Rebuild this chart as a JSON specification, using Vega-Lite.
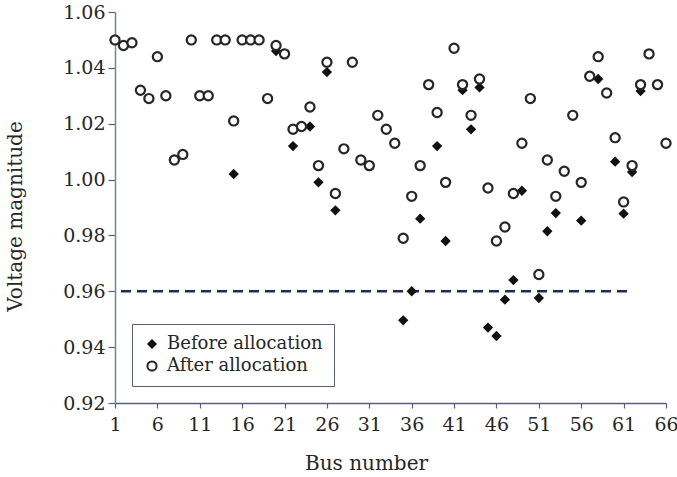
{
  "$schema": "https://vega.github.io/schema/vega-lite/v6.json",
  "autosize": "none",
  "width": 551,
  "height": 391,
  "padding": {"left": 115, "top": 12, "right": 11, "bottom": 74},
  "background": "white",
  "config": {
    "view": {"stroke": null},
    "font": "DejaVu Serif",
    "axis": {
      "grid": false,
      "labelFont": "DejaVu Serif",
      "titleFont": "DejaVu Serif",
      "labelColor": "#262626",
      "titleColor": "#262626",
      "titleFontWeight": "normal",
      "labelFontSize": 19,
      "titleFontSize": 20
    }
  },
  "datasets": {
    "voltages": [
      {"bus": 15, "voltage": 1.002, "series": "Before allocation"},
      {"bus": 20, "voltage": 1.046, "series": "Before allocation"},
      {"bus": 22, "voltage": 1.012, "series": "Before allocation"},
      {"bus": 24, "voltage": 1.019, "series": "Before allocation"},
      {"bus": 25, "voltage": 0.999, "series": "Before allocation"},
      {"bus": 26, "voltage": 1.0385, "series": "Before allocation"},
      {"bus": 27, "voltage": 0.989, "series": "Before allocation"},
      {"bus": 35, "voltage": 0.9496, "series": "Before allocation"},
      {"bus": 36, "voltage": 0.960, "series": "Before allocation"},
      {"bus": 37, "voltage": 0.986, "series": "Before allocation"},
      {"bus": 39, "voltage": 1.012, "series": "Before allocation"},
      {"bus": 40, "voltage": 0.978, "series": "Before allocation"},
      {"bus": 42, "voltage": 1.032, "series": "Before allocation"},
      {"bus": 43, "voltage": 1.018, "series": "Before allocation"},
      {"bus": 44, "voltage": 1.033, "series": "Before allocation"},
      {"bus": 45, "voltage": 0.947, "series": "Before allocation"},
      {"bus": 46, "voltage": 0.944, "series": "Before allocation"},
      {"bus": 47, "voltage": 0.957, "series": "Before allocation"},
      {"bus": 48, "voltage": 0.964, "series": "Before allocation"},
      {"bus": 49, "voltage": 0.996, "series": "Before allocation"},
      {"bus": 51, "voltage": 0.9576, "series": "Before allocation"},
      {"bus": 52, "voltage": 0.9815, "series": "Before allocation"},
      {"bus": 53, "voltage": 0.988, "series": "Before allocation"},
      {"bus": 56, "voltage": 0.9853, "series": "Before allocation"},
      {"bus": 58, "voltage": 1.036, "series": "Before allocation"},
      {"bus": 60, "voltage": 1.0064, "series": "Before allocation"},
      {"bus": 61, "voltage": 0.9878, "series": "Before allocation"},
      {"bus": 62, "voltage": 1.0027, "series": "Before allocation"},
      {"bus": 63, "voltage": 1.0317, "series": "Before allocation"},
      {"bus": 1, "voltage": 1.050, "series": "After allocation"},
      {"bus": 2, "voltage": 1.048, "series": "After allocation"},
      {"bus": 3, "voltage": 1.049, "series": "After allocation"},
      {"bus": 4, "voltage": 1.032, "series": "After allocation"},
      {"bus": 5, "voltage": 1.029, "series": "After allocation"},
      {"bus": 6, "voltage": 1.044, "series": "After allocation"},
      {"bus": 7, "voltage": 1.030, "series": "After allocation"},
      {"bus": 8, "voltage": 1.007, "series": "After allocation"},
      {"bus": 9, "voltage": 1.009, "series": "After allocation"},
      {"bus": 10, "voltage": 1.050, "series": "After allocation"},
      {"bus": 11, "voltage": 1.030, "series": "After allocation"},
      {"bus": 12, "voltage": 1.030, "series": "After allocation"},
      {"bus": 13, "voltage": 1.050, "series": "After allocation"},
      {"bus": 14, "voltage": 1.050, "series": "After allocation"},
      {"bus": 15, "voltage": 1.021, "series": "After allocation"},
      {"bus": 16, "voltage": 1.050, "series": "After allocation"},
      {"bus": 17, "voltage": 1.050, "series": "After allocation"},
      {"bus": 18, "voltage": 1.050, "series": "After allocation"},
      {"bus": 19, "voltage": 1.029, "series": "After allocation"},
      {"bus": 20, "voltage": 1.048, "series": "After allocation"},
      {"bus": 21, "voltage": 1.045, "series": "After allocation"},
      {"bus": 22, "voltage": 1.018, "series": "After allocation"},
      {"bus": 23, "voltage": 1.019, "series": "After allocation"},
      {"bus": 24, "voltage": 1.026, "series": "After allocation"},
      {"bus": 25, "voltage": 1.005, "series": "After allocation"},
      {"bus": 26, "voltage": 1.042, "series": "After allocation"},
      {"bus": 27, "voltage": 0.995, "series": "After allocation"},
      {"bus": 28, "voltage": 1.011, "series": "After allocation"},
      {"bus": 29, "voltage": 1.042, "series": "After allocation"},
      {"bus": 30, "voltage": 1.007, "series": "After allocation"},
      {"bus": 31, "voltage": 1.005, "series": "After allocation"},
      {"bus": 32, "voltage": 1.023, "series": "After allocation"},
      {"bus": 33, "voltage": 1.018, "series": "After allocation"},
      {"bus": 34, "voltage": 1.013, "series": "After allocation"},
      {"bus": 35, "voltage": 0.979, "series": "After allocation"},
      {"bus": 36, "voltage": 0.994, "series": "After allocation"},
      {"bus": 37, "voltage": 1.005, "series": "After allocation"},
      {"bus": 38, "voltage": 1.034, "series": "After allocation"},
      {"bus": 39, "voltage": 1.024, "series": "After allocation"},
      {"bus": 40, "voltage": 0.999, "series": "After allocation"},
      {"bus": 41, "voltage": 1.047, "series": "After allocation"},
      {"bus": 42, "voltage": 1.034, "series": "After allocation"},
      {"bus": 43, "voltage": 1.023, "series": "After allocation"},
      {"bus": 44, "voltage": 1.036, "series": "After allocation"},
      {"bus": 45, "voltage": 0.997, "series": "After allocation"},
      {"bus": 46, "voltage": 0.978, "series": "After allocation"},
      {"bus": 47, "voltage": 0.983, "series": "After allocation"},
      {"bus": 48, "voltage": 0.995, "series": "After allocation"},
      {"bus": 49, "voltage": 1.013, "series": "After allocation"},
      {"bus": 50, "voltage": 1.029, "series": "After allocation"},
      {"bus": 51, "voltage": 0.966, "series": "After allocation"},
      {"bus": 52, "voltage": 1.007, "series": "After allocation"},
      {"bus": 53, "voltage": 0.994, "series": "After allocation"},
      {"bus": 54, "voltage": 1.003, "series": "After allocation"},
      {"bus": 55, "voltage": 1.023, "series": "After allocation"},
      {"bus": 56, "voltage": 0.999, "series": "After allocation"},
      {"bus": 57, "voltage": 1.037, "series": "After allocation"},
      {"bus": 58, "voltage": 1.044, "series": "After allocation"},
      {"bus": 59, "voltage": 1.031, "series": "After allocation"},
      {"bus": 60, "voltage": 1.015, "series": "After allocation"},
      {"bus": 61, "voltage": 0.992, "series": "After allocation"},
      {"bus": 62, "voltage": 1.005, "series": "After allocation"},
      {"bus": 63, "voltage": 1.034, "series": "After allocation"},
      {"bus": 64, "voltage": 1.045, "series": "After allocation"},
      {"bus": 65, "voltage": 1.034, "series": "After allocation"},
      {"bus": 66, "voltage": 1.013, "series": "After allocation"}
    ],
    "limit": [
      {"bus": 1, "bus_end": 62, "voltage": 0.96}
    ]
  },
  "layer": [
    {
      "data": {"name": "limit"},
      "mark": {"type": "rule", "color": "#1e2a5c", "strokeWidth": 2.5, "strokeDash": [10, 6], "strokeDashOffset": -6},
      "encoding": {
        "x": {"field": "bus", "type": "quantitative"},
        "x2": {"field": "bus_end"},
        "y": {"field": "voltage", "type": "quantitative"}
      }
    },
    {
      "data": {"name": "voltages"},
      "mark": {"type": "point", "filled": false, "strokeWidth": 2.2, "opacity": 1},
      "encoding": {
        "x": {
          "field": "bus",
          "type": "quantitative",
          "scale": {"domain": [1, 66], "nice": false, "zero": false},
          "axis": {
            "title": "Bus number",
            "values": [1, 6, 11, 16, 21, 26, 31, 36, 41, 46, 51, 56, 61, 66],
            "domainColor": "#5a5f7e",
            "domainWidth": 1.5,
            "tickColor": "#5a5f7e",
            "tickWidth": 1.2,
            "tickSize": 5,
            "labelPadding": 7,
            "labelFlush": false,
            "labelOverlap": false,
            "titleX": 251,
            "titleY": 60,
            "titleBaseline": "middle"
          }
        },
        "y": {
          "field": "voltage",
          "type": "quantitative",
          "scale": {"domain": [0.92, 1.06], "nice": false, "zero": false},
          "axis": {
            "title": "Voltage magnitude",
            "values": [0.92, 0.94, 0.96, 0.98, 1.0, 1.02, 1.04, 1.06],
            "format": ".2f",
            "domainColor": "#6a8a90",
            "domainWidth": 1.5,
            "tickColor": "#5a5f7e",
            "tickWidth": 1.2,
            "tickSize": 7,
            "labelPadding": 3,
            "labelOverlap": false,
            "labelFlush": false,
            "titleX": -100,
            "titleY": 204,
            "titleAngle": -90,
            "titleAlign": "center",
            "titleBaseline": "middle"
          }
        },
        "shape": {
          "field": "series",
          "type": "nominal",
          "scale": {"domain": ["Before allocation", "After allocation"], "range": ["diamond", "circle"]},
          "legend": {
            "title": null,
            "orient": "none",
            "legendX": 17,
            "legendY": 312,
            "padding": 11,
            "strokeColor": "#5a5f78",
            "fillColor": "white",
            "labelFont": "DejaVu Serif",
            "labelFontSize": 18,
            "labelColor": "#262626",
            "labelOffset": 6,
            "rowPadding": 4,
            "symbolStrokeWidth": 2,
            "encode": {"legend": {"update": {"strokeWidth": {"value": 1.5}}}}
          }
        },
        "size": {
          "field": "series",
          "type": "nominal",
          "scale": {"domain": ["Before allocation", "After allocation"], "range": [52, 84]}
        },
        "fill": {
          "field": "series",
          "type": "nominal",
          "scale": {"domain": ["Before allocation", "After allocation"], "range": ["#111111", "#ffffff"]}
        },
        "stroke": {
          "field": "series",
          "type": "nominal",
          "scale": {"domain": ["Before allocation", "After allocation"], "range": ["#111111", "#262626"]}
        }
      }
    }
  ]
}
